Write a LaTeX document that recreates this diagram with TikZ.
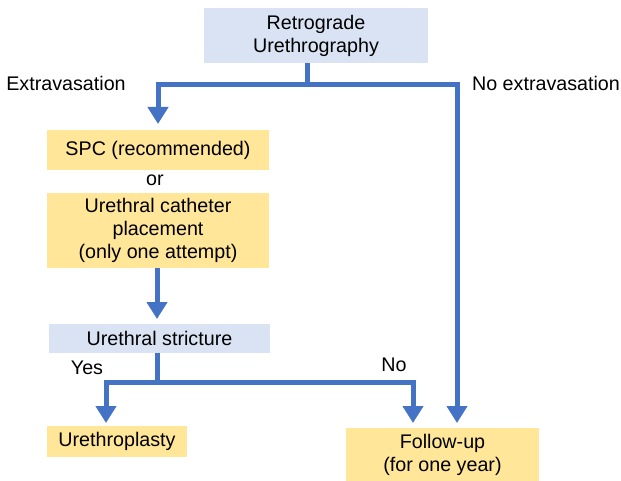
\documentclass[tikz,border=0pt]{standalone}
\usepackage{fontspec}
\setmainfont{Liberation Sans}
\usetikzlibrary{arrows.meta}
\definecolor{lblue}{HTML}{DAE3F3}
\definecolor{lgold}{HTML}{FFE699}
\definecolor{arr}{HTML}{4472C4}
\tikzset{
  box/.style={draw=none, inner sep=0pt, align=center, font=\fontsize{19.7}{23}\selectfont},
  qbox/.style={box, fill=lblue},
  abox/.style={box, fill=lgold},
  lbl/.style={font=\fontsize{19.7}{23}\selectfont, inner sep=0pt},
  conn/.style={draw=arr, line width=5pt},
  arrow/.style={conn, -{Triangle[width=20pt,length=17pt]}},
}
\begin{document}
\begin{tikzpicture}[x=1pt,y=-1pt]
\useasboundingbox (0,0) rectangle (621,481);
\node[qbox, minimum width=224pt, minimum height=55pt] (rug) at (316,35.5) {Retrograde\\Urethrography};
\node[abox, minimum width=222pt, minimum height=40pt] (spc) at (158,150) {SPC (recommended)};
\node[lbl] (or) at (155,180) {or};
\node[abox, minimum width=222pt, minimum height=75pt] (cath) at (158,230.5) {Urethral catheter\\placement\\(only one attempt)};
\node[qbox, minimum width=221pt, minimum height=29pt] (str) at (159.5,338) {Urethral stricture};
\node[abox, minimum width=140pt, minimum height=31pt] (plasty) at (117,441) {Urethroplasty};
\node[abox, minimum width=193pt, minimum height=54pt] (fu) at (442.5,455) {Follow-up\\(for one year)};
\node[lbl] at (66,83) {Extravasation};
\node[lbl] at (546,83) {No extravasation};
\node[lbl] at (87,368) {Yes};
\node[lbl] at (394,365) {No};
\coordinate (j1) at (307,85);
\coordinate (j1l) at (158,85);
\coordinate (j1r) at (457,85);
\coordinate (j2) at (157,382);
\coordinate (j2l) at (106,382);
\coordinate (j2r) at (413,382);
\draw[conn] (rug.south -| j1) -- (j1);
\draw[arrow] (j1) -- (j1l) -- (158,124);
\draw[arrow] (j1) -- (j1r) -- (457,423);
\draw[arrow] (cath.south -| j2) -- (157,319);
\draw[conn] (str.south -| j2) -- (j2);
\draw[arrow] (j2) -- (j2l) -- (106,423);
\draw[arrow] (j2) -- (j2r) -- (413,423);
\end{tikzpicture}
\end{document}
